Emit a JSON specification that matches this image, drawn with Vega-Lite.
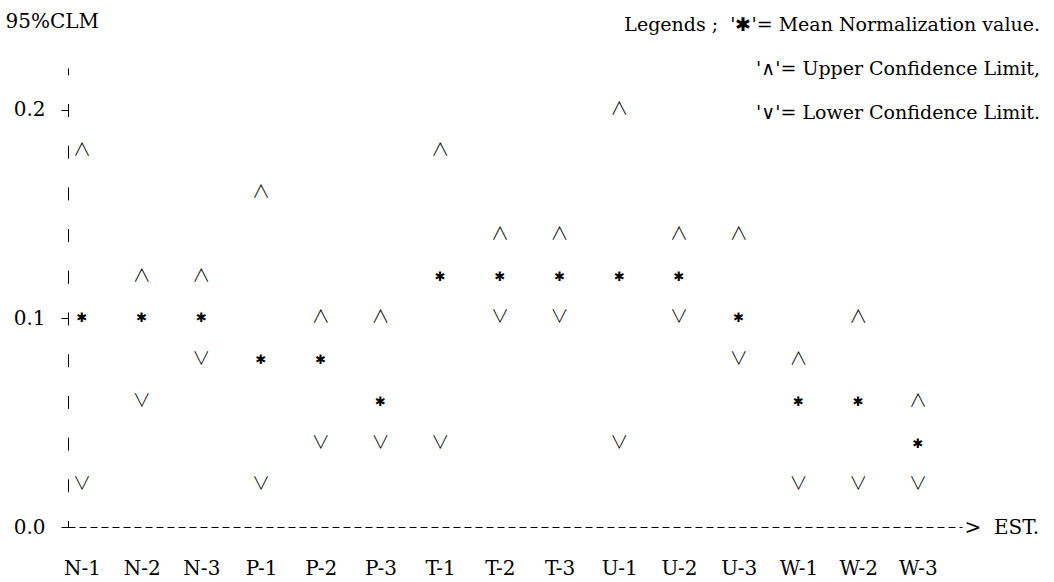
{
  "$schema": "https://vega.github.io/schema/vega-lite/v6.json",
  "width": 894,
  "height": 459,
  "autosize": {"type": "none"},
  "padding": {"left": 68, "top": 68, "right": 92, "bottom": 55},
  "background": "white",
  "config": {"view": {"stroke": null}, "font": "DejaVu Serif"},
  "title": {
    "text": ["Legends ;\u00a0\u00a0'✱'= Mean Normalization value.", "'∧'= Upper Confidence Limit,", "'∨'= Lower Confidence Limit."],
    "anchor": "end",
    "align": "right",
    "frame": "group",
    "orient": "top",
    "dx": 78,
    "offset": -112,
    "font": "DejaVu Serif",
    "fontSize": 19,
    "fontWeight": "normal",
    "color": "black",
    "lineHeight": 44
  },
  "data": {
    "values": [
      {"est": "N-1", "upper": 0.18, "mean": 0.10, "lower": 0.02},
      {"est": "N-2", "upper": 0.12, "mean": 0.10, "lower": 0.06},
      {"est": "N-3", "upper": 0.12, "mean": 0.10, "lower": 0.08},
      {"est": "P-1", "upper": 0.16, "mean": 0.08, "lower": 0.02},
      {"est": "P-2", "upper": 0.10, "mean": 0.08, "lower": 0.04},
      {"est": "P-3", "upper": 0.10, "mean": 0.06, "lower": 0.04},
      {"est": "T-1", "upper": 0.18, "mean": 0.12, "lower": 0.04},
      {"est": "T-2", "upper": 0.14, "mean": 0.12, "lower": 0.10},
      {"est": "T-3", "upper": 0.14, "mean": 0.12, "lower": 0.10},
      {"est": "U-1", "upper": 0.20, "mean": 0.12, "lower": 0.04},
      {"est": "U-2", "upper": 0.14, "mean": 0.12, "lower": 0.10},
      {"est": "U-3", "upper": 0.14, "mean": 0.10, "lower": 0.08},
      {"est": "W-1", "upper": 0.08, "mean": 0.06, "lower": 0.02},
      {"est": "W-2", "upper": 0.10, "mean": 0.06, "lower": 0.02},
      {"est": "W-3", "upper": 0.06, "mean": 0.04, "lower": 0.02}
    ]
  },
  "encoding": {
    "x": {
      "field": "est",
      "type": "ordinal",
      "sort": null,
      "scale": {"type": "point", "padding": 0.486, "align": 0.24},
      "axis": {
        "title": "> \u00a0EST.",
        "titleX": 896,
        "titleY": 0,
        "titleAlign": "left",
        "titleBaseline": "middle",
        "titleFont": "DejaVu Serif",
        "titleFontSize": 20,
        "titleFontWeight": "normal",
        "titleColor": "black",
        "labelAngle": 0,
        "labelFont": "DejaVu Serif",
        "labelFontSize": 20,
        "labelColor": "black",
        "labelPadding": 31,
        "ticks": true,
        "tickSize": 0,
        "domainColor": "black",
        "domainWidth": 1,
        "domainDash": [7, 4],
        "grid": false
      }
    }
  },
  "layer": [
    {
      "mark": {"type": "text", "text": "∧", "font": "Noto Sans CJK KR", "fontSize": 18, "fontWeight": 300, "baseline": "middle", "align": "center", "color": "black"},
      "encoding": {
        "y": {
          "field": "upper",
          "type": "quantitative",
          "scale": {"domain": [0, 0.22], "nice": false, "zero": true},
          "axis": {
            "title": "95%CLM",
            "titleAngle": 0,
            "titleX": -63,
            "titleY": -47,
            "titleAlign": "left",
            "titleBaseline": "middle",
            "titleFont": "DejaVu Serif",
            "titleFontSize": 20,
            "titleFontWeight": "normal",
            "titleColor": "black",
            "values": [0, 0.1, 0.2],
            "format": ".1f",
            "labelFont": "DejaVu Serif",
            "labelFontSize": 20,
            "labelColor": "black",
            "labelPadding": 16,
            "tickSize": 7,
            "tickColor": "black",
            "domainColor": "black",
            "domainDash": [13, 28.7],
            "domainDashOffset": 6.5,
            "grid": false
          }
        }
      }
    },
    {
      "mark": {"type": "text", "text": "✱", "font": "DejaVu Sans", "fontSize": 13, "baseline": "middle", "align": "center", "color": "black"},
      "encoding": {
        "y": {"field": "mean", "type": "quantitative"}
      }
    },
    {
      "mark": {"type": "text", "text": "∨", "font": "Noto Sans CJK KR", "fontSize": 18, "fontWeight": 300, "baseline": "middle", "align": "center", "color": "black"},
      "encoding": {
        "y": {"field": "lower", "type": "quantitative"}
      }
    }
  ]
}
